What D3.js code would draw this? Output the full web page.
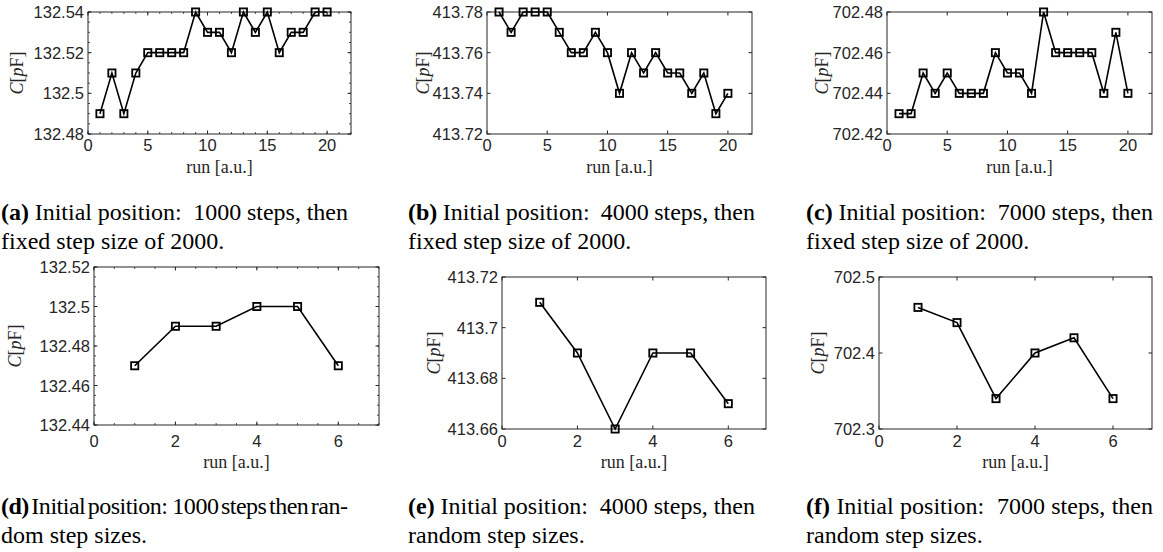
<!DOCTYPE html>
<html>
<head>
<meta charset="utf-8">
<script src="https://cdn.jsdelivr.net/npm/d3@7"></script>
<style>
  body { margin: 0; background: #fff; }
  svg { display: block; }
  .tick-label { font-family: "Liberation Sans", Arial, sans-serif; font-size: 16.5px; fill: #262626; }
  .axis-title { font-family: "Liberation Serif", "Times New Roman", serif; font-size: 18px; fill: #262626; }
  .caption { font-family: "Liberation Serif", "Times New Roman", serif; font-size: 24px; fill: #000; }
</style>
</head>
<body>
<svg id="chart" width="1163" height="552"></svg>
<script>
// data
var runsFixed = d3.range(1, 21);
var runsRandom = d3.range(1, 7);

var fixed1000 = [132.49, 132.51, 132.49, 132.51, 132.52, 132.52, 132.52, 132.52, 132.54, 132.53,
                 132.53, 132.52, 132.54, 132.53, 132.54, 132.52, 132.53, 132.53, 132.54, 132.54];
var fixed4000 = [413.78, 413.77, 413.78, 413.78, 413.78, 413.77, 413.76, 413.76, 413.77, 413.76,
                 413.74, 413.76, 413.75, 413.76, 413.75, 413.75, 413.74, 413.75, 413.73, 413.74];
var fixed7000 = [702.43, 702.43, 702.45, 702.44, 702.45, 702.44, 702.44, 702.44, 702.46, 702.45,
                 702.45, 702.44, 702.48, 702.46, 702.46, 702.46, 702.46, 702.44, 702.47, 702.44];
var random1000 = [132.47, 132.49, 132.49, 132.50, 132.50, 132.47];
var random4000 = [413.71, 413.69, 413.66, 413.69, 413.69, 413.67];
var random7000 = [702.46, 702.44, 702.34, 702.40, 702.42, 702.34];

var xTicksFixed = [0, 5, 10, 15, 20];
var xTicksRandom = [0, 2, 4, 6];
var yTicksA = [132.48, 132.50, 132.52, 132.54];
var yTicksB = [413.72, 413.74, 413.76, 413.78];
var yTicksC = [702.42, 702.44, 702.46, 702.48];
var yTicksD = [132.44, 132.46, 132.48, 132.50, 132.52];
var yTicksE = [413.66, 413.68, 413.70, 413.72];
var yTicksF = [702.3, 702.4, 702.5];

var captions = [
  ["(a)", " Initial position:  1000 steps, then", "fixed step size of 2000."],
  ["(b)", " Initial position:  4000 steps, then", "fixed step size of 2000."],
  ["(c)", " Initial position:  7000 steps, then", "fixed step size of 2000."],
  ["(d)", " Initial position:  1000 steps then ran-", "dom step sizes."],
  ["(e)", " Initial position:  4000 steps, then", "random step sizes."],
  ["(f)", " Initial position:  7000 steps, then", "random step sizes."]
];

var svg = d3.select("#chart");
var fmt = d3.format(".2~f");
var axisColor = "#262626";
var captionWidth = 347;

// box = [left, right, top, bottom]
var panels = [
  {box: [88, 351, 12, 134], xs: runsFixed, ys: fixed1000, xDom: [0, 22], yDom: [132.48, 132.54],
   xt: xTicksFixed, yt: yTicksA, minor: [1, 0.005], labelX: 23, tickY: 151, runY: 173,
   cap: captions[0], capX: 1, capY: 220},
  {box: [487, 752, 12, 134], xs: runsFixed, ys: fixed4000, xDom: [0, 22], yDom: [413.72, 413.78],
   xt: xTicksFixed, yt: yTicksB, minor: null, labelX: 429, tickY: 151, runY: 173,
   cap: captions[1], capX: 408, capY: 220},
  {box: [887, 1152, 12, 134], xs: runsFixed, ys: fixed7000, xDom: [0, 22], yDom: [702.42, 702.48],
   xt: xTicksFixed, yt: yTicksC, minor: null, labelX: 828, tickY: 151, runY: 173,
   cap: captions[2], capX: 806, capY: 220},
  {box: [94, 379, 267, 425], xs: runsRandom, ys: random1000, xDom: [0, 7], yDom: [132.44, 132.52],
   xt: xTicksRandom, yt: yTicksD, minor: [0.5, 0.005], labelX: 21, tickY: 447, runY: 468,
   cap: captions[3], capX: 1, capY: 514},
  {box: [502, 766, 277, 429], xs: runsRandom, ys: random4000, xDom: [0, 7], yDom: [413.66, 413.72],
   xt: xTicksRandom, yt: yTicksE, minor: null, labelX: 440, tickY: 447, runY: 468,
   cap: captions[4], capX: 408, capY: 514},
  {box: [879, 1152, 277, 429], xs: runsRandom, ys: random7000, xDom: [0, 7], yDom: [702.3, 702.5],
   xt: xTicksRandom, yt: yTicksF, minor: null, labelX: 824, tickY: 447, runY: 468,
   cap: captions[5], capX: 806, capY: 514}
];

panels.forEach(drawPanel);

function drawPanel(p) {
  var x0 = p.box[0], x1 = p.box[1], y0 = p.box[2], y1 = p.box[3];
  var x = d3.scaleLinear().domain(p.xDom).range([x0, x1]);
  var y = d3.scaleLinear().domain(p.yDom).range([y1, y0]);
  var g = svg.append("g");
  var tickLen = 3.5;

  // minor ticks (inward, mirrored)
  if (p.minor) {
    var mx = d3.range(p.xDom[0], p.xDom[1] + 1e-9, p.minor[0]);
    var my = d3.range(0, Math.round((p.yDom[1] - p.yDom[0]) / p.minor[1]) + 1)
      .map(function(i) { return p.yDom[0] + i * p.minor[1]; });
    mx.forEach(function(v) {
      g.append("line").attr("x1", x(v)).attr("x2", x(v)).attr("y1", y1).attr("y2", y1 - 2)
        .attr("stroke", axisColor).attr("stroke-width", 0.8);
      g.append("line").attr("x1", x(v)).attr("x2", x(v)).attr("y1", y0).attr("y2", y0 + 2)
        .attr("stroke", axisColor).attr("stroke-width", 0.8);
    });
    my.forEach(function(v) {
      g.append("line").attr("x1", x0).attr("x2", x0 + 2).attr("y1", y(v)).attr("y2", y(v))
        .attr("stroke", axisColor).attr("stroke-width", 0.8);
      g.append("line").attr("x1", x1).attr("x2", x1 - 2).attr("y1", y(v)).attr("y2", y(v))
        .attr("stroke", axisColor).attr("stroke-width", 0.8);
    });
  }

  // major ticks and labels
  p.xt.forEach(function(v) {
    g.append("line").attr("x1", x(v)).attr("x2", x(v)).attr("y1", y1).attr("y2", y1 - tickLen)
      .attr("stroke", axisColor);
    g.append("line").attr("x1", x(v)).attr("x2", x(v)).attr("y1", y0).attr("y2", y0 + tickLen)
      .attr("stroke", axisColor);
    g.append("text").attr("class", "tick-label").attr("x", x(v)).attr("y", p.tickY)
      .attr("text-anchor", "middle").text(fmt(v));
  });
  p.yt.forEach(function(v) {
    g.append("line").attr("x1", x0).attr("x2", x0 + tickLen).attr("y1", y(v)).attr("y2", y(v))
      .attr("stroke", axisColor);
    g.append("line").attr("x1", x1).attr("x2", x1 - tickLen).attr("y1", y(v)).attr("y2", y(v))
      .attr("stroke", axisColor);
    g.append("text").attr("class", "tick-label").attr("x", x0 - 4).attr("y", y(v) + 6)
      .attr("text-anchor", "end").text(fmt(v));
  });

  // frame
  g.append("rect").attr("x", x0).attr("y", y0).attr("width", x1 - x0).attr("height", y1 - y0)
    .attr("fill", "none").attr("stroke", axisColor).attr("stroke-width", 1);

  // series
  var pts = p.xs.map(function(d, i) { return [d, p.ys[i]]; });
  g.append("path").datum(pts)
    .attr("d", d3.line().x(function(d) { return x(d[0]); }).y(function(d) { return y(d[1]); }))
    .attr("fill", "none").attr("stroke", "#000").attr("stroke-width", 1.6);
  g.selectAll("rect.mk").data(pts).enter().append("rect").attr("class", "mk")
    .attr("x", function(d) { return x(d[0]) - 3.6; })
    .attr("y", function(d) { return y(d[1]) - 3.6; })
    .attr("width", 7.2).attr("height", 7.2)
    .attr("fill", "none").attr("stroke", "#000").attr("stroke-width", 1.8);

  // axis titles
  var yl = g.append("text").attr("class", "axis-title")
    .attr("transform", "translate(" + p.labelX + "," + ((y0 + y1) / 2) + ") rotate(-90)")
    .attr("text-anchor", "middle");
  yl.append("tspan").attr("font-style", "italic").text("C");
  yl.append("tspan").text("[");
  yl.append("tspan").attr("font-style", "italic").text("p");
  yl.append("tspan").text("F]");

  g.append("text").attr("class", "axis-title").attr("x", (x0 + x1) / 2).attr("y", p.runY)
    .attr("text-anchor", "middle").text("run [a.u.]");

  // caption, first line justified to the column width
  var c1 = g.append("text").attr("class", "caption").attr("x", p.capX).attr("y", p.capY)
    .attr("xml:space", "preserve");
  c1.append("tspan").attr("font-weight", "bold").text(p.cap[0]);
  c1.append("tspan").text(p.cap[1]);
  var line = p.cap[0] + p.cap[1];
  var spaces = line.split(" ").length - 1;
  var natural = c1.node().getComputedTextLength();
  var ws = Math.max(-3, (captionWidth - natural) / spaces);
  c1.attr("word-spacing", ws);
  var rest = captionWidth - (natural + ws * spaces);
  if (rest < 0) c1.attr("letter-spacing", rest / (line.length - 1));
  g.append("text").attr("class", "caption").attr("x", p.capX).attr("y", p.capY + 29)
    .text(p.cap[2]);
}
</script>
</body>
</html>
